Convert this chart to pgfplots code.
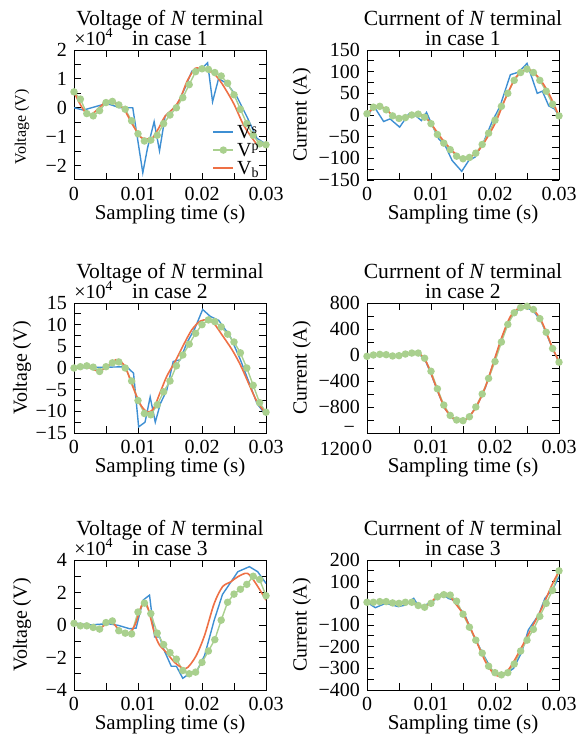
\documentclass[border=0pt]{standalone}
\usepackage{fontspec}
\setmainfont{Liberation Serif}
\usepackage{pgfplots}
\pgfplotsset{compat=1.18}
\definecolor{cb}{HTML}{3E8FD3}
\definecolor{cg}{HTML}{A9D08E}
\definecolor{co}{HTML}{EE7045}
\pgfplotsset{
 panel/.style={
  scale only axis, width=96pt, height=65pt, anchor=north west,
  xmin=0, xmax=0.03, scaled x ticks=false, scaled y ticks=false,
  xtick={0,0.01,0.02,0.03}, xticklabels={0,0.01,0.02,0.03},
  minor x tick num=1, minor y tick num=1,
  tick align=inside, major tick length=3.5pt, minor tick length=3.5pt,
  every tick/.style={black, line width=0.4pt},
  axis line style={black, line width=0.5pt},
  xticklabel style={font=\fontsize{10}{12}\selectfont},
  yticklabel style={font=\fontsize{10}{12}\selectfont},
  xlabel={Sampling time (s)},
  xlabel style={font=\fontsize{10.5}{12}\selectfont, at={(axis description cs:0.5,0)}, anchor=center, yshift=-17pt},
  ylabel style={font=\fontsize{10}{12}\selectfont, at={(axis description cs:-0.27,0.5)}, anchor=center},
  title style={font=\fontsize{10.8}{10}\selectfont, align=center, at={(axis description cs:0.5,1)}, anchor=south, inner sep=0pt, yshift=-4pt},
 },
 rpanel/.style={panel, ylabel={Current (A)}, ylabel style={at={(axis description cs:-0.34,0.5)}}},
 lpanel/.style={panel, ylabel={Voltage (V)},
   after end axis/.code={\node[anchor=base west, inner sep=0pt, font=\fontsize{10}{12}\selectfont] at (rel axis cs:0,1) [yshift=2.5pt] {×10\textsuperscript{4}};}},
 sv/.style={cb, line width=0.7pt, no markers},
 pv/.style={cg, line width=0.7pt, mark=*, mark size=1.5pt, mark options={fill=cg, draw=cg}},
 bv/.style={co, line width=0.8pt, no markers, smooth},
}
\begin{document}
\begin{tikzpicture}
\path[use as bounding box] (0,0) rectangle (287.5pt,-369.5pt);

% ---------- TL ----------
\begin{axis}[lpanel, at={(37pt,-25pt)},
  title={Voltage of \textit{N} terminal\\in case 1},
  ymin=-2.5, ymax=2, ytick={-2,-1,0,1,2}, yticklabels={−2,−1,0,1,2},
  ylabel style={font=\fontsize{8}{10}\selectfont, at={(axis description cs:-0.27,0.41)}},
  legend style={draw=none, fill=none, at={(rel axis cs:1,0)}, anchor=south east, font=\fontsize{10}{10}\selectfont,
    nodes={inner sep=0.5pt, text height=6.5pt, text depth=0pt}, row sep=1.5pt, column sep=1pt},
  legend image code/.code={\draw[mark repeat=2,mark phase=2,#1] plot coordinates {(0pt,0pt) (5pt,0pt) (10pt,0pt)};},
  legend cell align=left]
\addplot[sv] coordinates {(0,0) (0.00146,-0.08) (0.00511,0.15) (0.0072,0.0) (0.00918,0.0) (0.01075,-2.25) (0.01148,-1.4) (0.01252,-0.48) (0.01336,-1.49) (0.01424,-0.29) (0.01607,0.09) (0.01737,0.7) (0.01842,1.27) (0.01972,1.3) (0.02087,1.56) (0.02165,0.21) (0.02259,1.01) (0.02389,0.84) (0.02546,0.38) (0.02702,-0.31) (0.02859,-1.06) (0.030,-1.26)};
\addplot[pv] coordinates {(0,0.55) (0.001,0.3) (0.002,-0.2) (0.003,-0.28) (0.004,-0.1) (0.005,0.18) (0.006,0.22) (0.007,0.1) (0.008,-0.05) (0.009,-0.45) (0.010,-0.9) (0.011,-1.15) (0.012,-1.12) (0.013,-0.95) (0.014,-0.55) (0.015,-0.25) (0.016,0.0) (0.017,0.35) (0.018,0.8) (0.019,1.25) (0.020,1.35) (0.021,1.33) (0.022,1.22) (0.023,1.1) (0.024,0.85) (0.025,0.45) (0.026,-0.05) (0.027,-0.55) (0.028,-0.95) (0.029,-1.25) (0.030,-1.28)};
\addplot[bv] coordinates {(0,0.55) (0.00224,-0.25) (0.00511,0.23) (0.00642,0.15) (0.00772,-0.02) (0.00903,-0.54) (0.01033,-1.0) (0.01096,-1.06) (0.01216,-1.06) (0.0132,-0.72) (0.01424,-0.29) (0.01555,-0.02) (0.01659,0.32) (0.01763,0.9) (0.01868,1.3) (0.0192,1.38) (0.02024,1.33) (0.02181,1.19) (0.02311,0.84) (0.02494,0.15) (0.0265,-0.6) (0.02807,-1.12) (0.02885,-1.31) (0.030,-1.23)};
\legend{V\raisebox{2.5pt}{\fontsize{7}{7}\selectfont s},V\raisebox{3pt}{\fontsize{7}{7}\selectfont p},V\raisebox{-1.5pt}{\fontsize{7}{7}\selectfont b}}
\end{axis}

% ---------- TR ----------
\begin{axis}[rpanel, at={(183.5pt,-25pt)},
  title={Currnent of \textit{N} terminal\\in case 1},
  ymin=-150, ymax=150, ytick={-150,-100,-50,0,50,100,150}, yticklabels={−150,−100,−50,0,50,100,150}]
\addplot[sv] coordinates {(0,-5) (0.00104,21) (0.0026,-15) (0.0036,-9) (0.0051,-28) (0.0065,2) (0.0076,-1.5) (0.0085,-13) (0.0093,6) (0.0102,-24) (0.0112,-55) (0.0122,-70) (0.0133,-105) (0.0148,-130) (0.0159,-105) (0.0169,-97) (0.0182,-63) (0.0195,-17) (0.0208,21) (0.0224,93) (0.0237,99) (0.025,119) (0.0266,50) (0.0274,55) (0.0284,21) (0.0293,14) (0.030,-1.5)};
\addplot[pv] coordinates {(0,3) (0.001,18) (0.002,20) (0.003,12) (0.004,-2) (0.005,-8) (0.006,-6) (0.007,0) (0.008,2) (0.009,-5) (0.010,-20) (0.011,-45) (0.012,-65) (0.013,-80) (0.014,-95) (0.015,-101) (0.016,-98) (0.017,-88) (0.018,-68) (0.019,-42) (0.020,-12) (0.021,20) (0.022,50) (0.023,80) (0.024,98) (0.025,106) (0.026,98) (0.027,80) (0.028,55) (0.029,25) (0.030,-2)};
\addplot[bv] coordinates {(0,2) (0.00156,21) (0.00287,14) (0.0042,-3) (0.0052,-8) (0.0065,-3) (0.0076,2) (0.0089,-1.5) (0.0102,-24) (0.0117,-55) (0.0133,-82) (0.0148,-101) (0.0159,-99) (0.0172,-86) (0.0185,-59) (0.0201,-17) (0.0216,37) (0.0232,86) (0.0247,104) (0.0258,102) (0.0274,75) (0.0287,41) (0.030,-3)};
\end{axis}

% ---------- ML ----------
\begin{axis}[lpanel, at={(37pt,-151.5pt)},
  title={Voltage of \textit{N} terminal\\in case 2},
  ymin=-15, ymax=15, ytick={-15,-10,-5,0,5,10,15}, yticklabels={−15,−10,−5,0,5,10,15}]
\addplot[sv] coordinates {(0,0) (0.00824,0.3) (0.0093,-1.2) (0.0101,-13.6) (0.0111,-12.5) (0.0119,-6.7) (0.0127,-12.5) (0.0135,-8.2) (0.0145,-5.1) (0.0155,1.5) (0.0166,1.9) (0.0176,5.7) (0.0189,9.2) (0.0201,13.5) (0.0213,11.9) (0.0226,11) (0.0244,7.3) (0.026,1.9) (0.0286,-8.2) (0.030,-10.9)};
\addplot[pv] coordinates {(0,0) (0.001,0.3) (0.002,0.5) (0.003,0.2) (0.004,-0.8) (0.005,0.3) (0.006,1.2) (0.007,1.4) (0.008,0) (0.009,-3) (0.010,-7.5) (0.011,-10.5) (0.012,-10.8) (0.013,-8.5) (0.014,-5.5) (0.015,-3) (0.016,0.5) (0.017,3) (0.018,5.5) (0.019,8) (0.020,10) (0.021,11.1) (0.022,10.7) (0.023,9.5) (0.024,7.8) (0.025,6) (0.026,3.5) (0.027,0) (0.028,-4) (0.029,-8) (0.030,-10.2)};
\addplot[bv] coordinates {(0,0) (0.002,0.3) (0.0035,-0.6) (0.0046,-0.3) (0.0062,1.6) (0.0069,1.9) (0.008,0.3) (0.009,-3.6) (0.0103,-8.2) (0.0114,-10.1) (0.0124,-9.4) (0.0135,-5.5) (0.0145,-1.9) (0.0158,1.5) (0.0171,5.3) (0.0184,8.8) (0.0197,10.8) (0.0208,11.1) (0.0218,10.4) (0.0231,7.7) (0.0247,4.2) (0.026,0.7) (0.0273,-3.6) (0.0286,-7.8) (0.030,-10.5)};
\end{axis}

% ---------- MR ----------
\begin{axis}[rpanel, at={(183.5pt,-151.5pt)},
  title={Currnent of \textit{N} terminal\\in case 2},
  ymin=-1200, ymax=800, ytick={-1200,-800,-400,0,400,800},
  yticklabels={{\smash{\llap{\raisebox{-11.3pt}{1200}}\llap{\raisebox{0pt}{−}\hspace{2.5pt}}}},−800,−400,0,400,800}]
\addplot[sv] coordinates {(0,-15) (0.00234,15) (0.0039,-15) (0.0052,-10) (0.007,36) (0.0081,20) (0.0091,-80) (0.0101,-315) (0.0112,-600) (0.0122,-830) (0.0135,-985) (0.0148,-1020) (0.0159,-960) (0.0172,-780) (0.0185,-500) (0.0198,-110) (0.0211,270) (0.0224,570) (0.0237,700) (0.0247,735) (0.026,680) (0.0273,500) (0.0289,120) (0.030,-110)};
\addplot[pv] coordinates {(0,-20) (0.001,0) (0.002,10) (0.003,5) (0.004,-15) (0.005,-10) (0.006,15) (0.007,30) (0.008,30) (0.009,-50) (0.010,-250) (0.011,-520) (0.012,-770) (0.013,-930) (0.014,-1000) (0.015,-1010) (0.016,-950) (0.017,-800) (0.018,-600) (0.019,-360) (0.020,-100) (0.021,200) (0.022,470) (0.023,650) (0.024,730) (0.025,750) (0.026,700) (0.027,560) (0.028,350) (0.029,100) (0.030,-110)};
\addplot[bv] coordinates {(0,-15) (0.00234,15) (0.0039,-15) (0.0052,-10) (0.007,36) (0.0081,26) (0.0091,-77) (0.0101,-309) (0.0112,-593) (0.0122,-825) (0.0135,-979) (0.0148,-1015) (0.0159,-954) (0.0172,-773) (0.0185,-490) (0.0198,-103) (0.0211,284) (0.0224,593) (0.0237,722) (0.0247,758) (0.026,696) (0.0273,515) (0.0289,129) (0.030,-103)};
\end{axis}

% ---------- BL ----------
\begin{axis}[lpanel, at={(37pt,-280pt)},
  title={Voltage of \textit{N} terminal\\in case 3},
  ymin=-4, ymax=4, ytick={-4,-2,0,2,4}, yticklabels={−4,−2,0,2,4}]
\addplot[sv] coordinates {(0,0.14) (0.0022,0) (0.0053,0.08) (0.0069,-0.02) (0.0087,-0.23) (0.0097,-0.19) (0.0108,1.53) (0.0118,1.84) (0.0126,-0.74) (0.0134,-0.74) (0.0141,-1.57) (0.0152,-2.54) (0.016,-2.54) (0.017,-3.28) (0.0183,-2.91) (0.0191,-2.91) (0.0204,-1.88) (0.0219,0.29) (0.0232,1.88) (0.0256,3.28) (0.0274,3.59) (0.0287,3.28) (0.030,2.56)};
\addplot[pv] coordinates {(0,0.1) (0.001,-0.05) (0.002,-0.05) (0.003,-0.15) (0.004,-0.25) (0.005,0.15) (0.006,0.25) (0.007,-0.35) (0.008,-0.5) (0.009,-0.55) (0.010,0.8) (0.011,1.35) (0.012,0.7) (0.013,-0.5) (0.014,-1.2) (0.015,-1.7) (0.016,-2.1) (0.017,-2.8) (0.018,-3.0) (0.019,-2.9) (0.020,-2.3) (0.021,-1.6) (0.022,-0.9) (0.023,0.3) (0.024,1.4) (0.025,1.9) (0.026,2.2) (0.027,2.5) (0.028,3.0) (0.029,2.8) (0.030,1.8)};
\addplot[bv] coordinates {(0,0.08) (0.0022,-0.02) (0.0037,-0.27) (0.0053,0.14) (0.0061,0.14) (0.0071,-0.33) (0.0084,-0.54) (0.0095,-0.02) (0.0108,1.42) (0.0115,1.11) (0.0126,-0.54) (0.0134,-1.26) (0.0144,-1.67) (0.0157,-2.29) (0.017,-2.66) (0.0178,-2.6) (0.0191,-1.88) (0.0204,-0.64) (0.0219,1.32) (0.0232,2.35) (0.0245,2.66) (0.0256,2.97) (0.0271,3.18) (0.0284,2.56) (0.030,1.53)};
\end{axis}

% ---------- BR ----------
\begin{axis}[rpanel, at={(183.5pt,-280pt)},
  title={Currnent of \textit{N} terminal\\in case 3},
  ymin=-400, ymax=200, ytick={-400,-300,-200,-100,0,100,200}, yticklabels={−400,−300,−200,−100,0,100,200}]
\addplot[sv] coordinates {(0,5) (0.0013,-20) (0.0029,0) (0.0049,-15) (0.006,-8) (0.0073,23) (0.0081,-15) (0.0091,-8) (0.0104,11) (0.0117,46) (0.0127,23) (0.0135,15) (0.0153,-54) (0.0166,-146) (0.0182,-238) (0.0198,-323) (0.0213,-334) (0.0229,-300) (0.0242,-223) (0.0252,-123) (0.0268,-54) (0.0278,23) (0.0291,69) (0.030,123)};
\addplot[pv] coordinates {(0,5) (0.001,5) (0.002,8) (0.003,8) (0.004,2) (0.005,0) (0.006,5) (0.007,5) (0.008,-10) (0.009,-18) (0.010,0) (0.011,30) (0.012,40) (0.013,38) (0.014,10) (0.015,-50) (0.016,-110) (0.017,-170) (0.018,-230) (0.019,-290) (0.020,-320) (0.021,-330) (0.022,-320) (0.023,-280) (0.024,-220) (0.025,-170) (0.026,-120) (0.027,-60) (0.028,0) (0.029,60) (0.030,150)};
\addplot[bv] coordinates {(0,5) (0.0029,8) (0.0052,0) (0.007,3) (0.0088,-20) (0.0101,8) (0.0112,38) (0.0127,38) (0.014,-8) (0.0153,-62) (0.0169,-162) (0.0185,-269) (0.020,-331) (0.0213,-331) (0.0226,-285) (0.0242,-200) (0.0257,-115) (0.0273,-23) (0.0289,85) (0.030,149)};
\end{axis}
\end{tikzpicture}
\end{document}
